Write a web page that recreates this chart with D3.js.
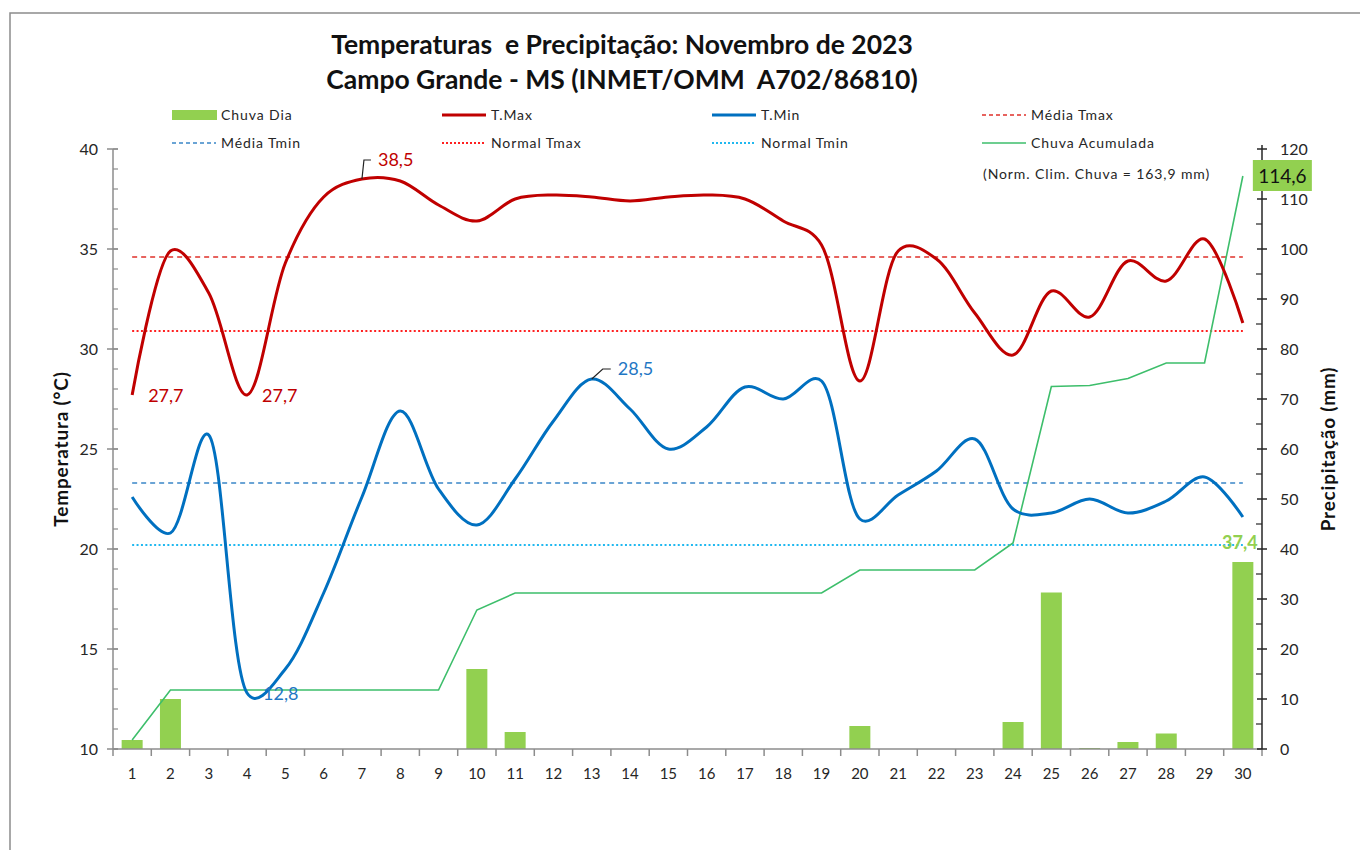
<!DOCTYPE html>
<html>
<head>
<meta charset="utf-8">
<script src="https://cdn.jsdelivr.net/npm/d3@7"></script>
<style>
  body { margin: 0; background: #fff; }
  svg { display: block; font-family: Lato, "Open Sans", sans-serif; }
</style>
</head>
<body>
<svg id="chart" width="1360" height="850"></svg>
<script>
// dias do mês
const days = d3.range(1, 31);

// temperaturas (°C)
const tmax = [27.7, 34.9, 32.8, 27.7, 34.3, 37.6, 38.5, 38.4, 37.2, 36.4,
              37.5, 37.7, 37.6, 37.4, 37.6, 37.7, 37.5, 36.4, 35.2, 28.4,
              34.9, 34.5, 31.8, 29.7, 32.9, 31.6, 34.4, 33.4, 35.5, 31.3];
const tmin = [22.6, 20.8, 25.7, 12.8, 14.0, 17.8, 22.6, 26.9, 23.0, 21.2,
              23.5, 26.4, 28.5, 27.0, 25.0, 26.1, 28.1, 27.5, 28.4, 21.5,
              22.7, 23.9, 25.5, 22.0, 21.8, 22.5, 21.8, 22.4, 23.6, 21.6];

// chuva diária e acumulada (mm)
const chuvaDia = [1.8, 10.0, 0, 0, 0, 0, 0, 0, 0, 16.0,
                  3.4, 0, 0, 0, 0, 0, 0, 0, 0, 4.6,
                  0, 0, 0, 5.4, 31.3, 0.2, 1.4, 3.1, 0, 37.4];
const chuvaAcum = [1.8, 11.8, 11.8, 11.8, 11.8, 11.8, 11.8, 11.8, 11.8, 27.8,
                   31.2, 31.2, 31.2, 31.2, 31.2, 31.2, 31.2, 31.2, 31.2, 35.8,
                   35.8, 35.8, 35.8, 41.2, 72.5, 72.7, 74.1, 77.2, 77.2, 114.6];

// linhas de referência
const mediaTmax = 34.6;
const mediaTmin = 23.3;
const normalTmax = 30.9;
const normalTmin = 20.2;

const tempTicks = [10, 15, 20, 25, 30, 35, 40];
const precTicks = [0, 10, 20, 30, 40, 50, 60, 70, 80, 90, 100, 110, 120];

const titleLines = ["Temperaturas  e Precipitação: Novembro de 2023",
                    "Campo Grande - MS (INMET/OMM  A702/86810)"];

const legendItems = [
  { label: "Chuva Dia", kind: "bar", color: "#92D050" },
  { label: "T.Max", kind: "line", color: "#C00000", width: 3 },
  { label: "T.Min", kind: "line", color: "#0070C0", width: 3 },
  { label: "Média Tmax", kind: "line", color: "#E0302A", width: 1.5, dash: "4,3" },
  { label: "Média Tmin", kind: "line", color: "#3A86C8", width: 1.5, dash: "4,3" },
  { label: "Normal Tmax", kind: "line", color: "#FF2020", width: 2, dash: "2,2" },
  { label: "Normal Tmin", kind: "line", color: "#20B8F0", width: 2, dash: "2,2" },
  { label: "Chuva Acumulada", kind: "line", color: "#3DBE6B", width: 1.5 }
];

const svg = d3.select("#chart");

const mLeft = 113, mRight = 1262, mTop = 149, mBottom = 749;

const x = d3.scaleBand().domain(days).range([mLeft, mRight]).padding(0);
const xc = d => x(d) + x.bandwidth() / 2;
const yT = d3.scaleLinear().domain([10, 40]).range([mBottom, mTop]);
const yP = d3.scaleLinear().domain([0, 120]).range([mBottom, mTop]);

// moldura
svg.append("rect")
  .attr("x", 10).attr("y", 13)
  .attr("width", 1400).attr("height", 900)
  .attr("fill", "none").attr("stroke", "#8c8c8c").attr("stroke-width", 1.5);

// título
svg.selectAll(".title").data(titleLines).enter().append("text")
  .attr("x", 622)
  .attr("y", (d, i) => 54 + i * 35)
  .attr("text-anchor", "middle")
  .attr("font-size", "26.5px")
  .attr("font-weight", "bold")
  .attr("fill", "#111")
  .style("white-space", "pre")
  .text(d => d);

// legenda
const legend = svg.append("g");
legendItems.forEach((it, i) => {
  const col = i % 4, row = Math.floor(i / 4);
  const gx = 172 + col * 270, gy = 115 + row * 28;
  if (it.kind === "bar") {
    legend.append("rect").attr("x", gx).attr("y", gy - 5).attr("width", 45).attr("height", 10)
      .attr("fill", it.color);
  } else {
    legend.append("line").attr("x1", gx).attr("x2", gx + 44).attr("y1", gy).attr("y2", gy)
      .attr("stroke", it.color).attr("stroke-width", it.width)
      .attr("stroke-dasharray", it.dash || null);
  }
  legend.append("text").attr("x", gx + 49).attr("y", gy + 5)
    .attr("font-size", "14px").attr("fill", "#262626")
    .attr("letter-spacing", "0.9px")
    .text(it.label);
});

// barras de chuva
svg.append("g").selectAll("rect").data(days).enter().append("rect")
  .attr("x", d => xc(d) - 10.5)
  .attr("width", 21)
  .attr("y", d => yP(chuvaDia[d - 1]))
  .attr("height", d => mBottom - yP(chuvaDia[d - 1]))
  .attr("fill", "#92D050");

// linhas de referência
function refLine(v, color, width, dash) {
  svg.append("line")
    .attr("x1", xc(1)).attr("x2", xc(30))
    .attr("y1", yT(v)).attr("y2", yT(v))
    .attr("stroke", color).attr("stroke-width", width)
    .attr("stroke-dasharray", dash);
}
refLine(mediaTmax, "#E0302A", 1.5, "5,4");
refLine(normalTmax, "#FF2020", 2.2, "2,2.4");
refLine(mediaTmin, "#3A86C8", 1.5, "5,4");
refLine(normalTmin, "#20B8F0", 2.2, "2,2.4");

// chuva acumulada
svg.append("path")
  .datum(days)
  .attr("fill", "none")
  .attr("stroke", "#3DBE6B")
  .attr("stroke-width", 1.6)
  .attr("d", d3.line().x(d => xc(d)).y(d => yP(chuvaAcum[d - 1])));

// temperaturas (linha suavizada)
const smooth = d3.curveCatmullRom.alpha(0.25);
svg.append("path")
  .datum(days)
  .attr("fill", "none").attr("stroke", "#C00000").attr("stroke-width", 3)
  .attr("d", d3.line().curve(smooth).x(d => xc(d)).y(d => yT(tmax[d - 1])));
svg.append("path")
  .datum(days)
  .attr("fill", "none").attr("stroke", "#0070C0").attr("stroke-width", 3)
  .attr("d", d3.line().curve(smooth).x(d => xc(d)).y(d => yT(tmin[d - 1])));

// eixo x
const xAxis = svg.append("g");
xAxis.append("line").attr("x1", mLeft).attr("x2", mRight).attr("y1", mBottom).attr("y2", mBottom)
  .attr("stroke", "#8c8c8c").attr("stroke-width", 1.5);
xAxis.selectAll(".xt").data(d3.range(0, 31)).enter().append("line")
  .attr("x1", i => mLeft + i * x.bandwidth()).attr("x2", i => mLeft + i * x.bandwidth())
  .attr("y1", mBottom).attr("y2", mBottom + 7)
  .attr("stroke", "#8c8c8c").attr("stroke-width", 1.5);
xAxis.selectAll(".xl").data(days).enter().append("text")
  .attr("x", d => xc(d)).attr("y", 779)
  .attr("text-anchor", "middle").attr("font-size", "15px").attr("fill", "#262626")
  .text(d => d);

// eixo de temperatura (esquerda)
const yAxisL = svg.append("g");
yAxisL.append("line").attr("x1", mLeft).attr("x2", mLeft).attr("y1", mTop).attr("y2", mBottom)
  .attr("stroke", "#8c8c8c").attr("stroke-width", 1.5);
yAxisL.selectAll(".mn").data(d3.range(10, 41)).enter().append("line")
  .attr("x1", mLeft).attr("x2", mLeft + 5)
  .attr("y1", d => yT(d)).attr("y2", d => yT(d))
  .attr("stroke", "#8c8c8c").attr("stroke-width", 1.2);
yAxisL.selectAll(".mj").data(tempTicks).enter().append("line")
  .attr("x1", mLeft - 6).attr("x2", mLeft + 5)
  .attr("y1", d => yT(d)).attr("y2", d => yT(d))
  .attr("stroke", "#8c8c8c").attr("stroke-width", 1.5);
yAxisL.selectAll("text").data(tempTicks).enter().append("text")
  .attr("x", 98).attr("y", d => yT(d) + 5.5)
  .attr("text-anchor", "end").attr("font-size", "16px").attr("fill", "#262626")
  .text(d => d);

// eixo de precipitação (direita)
const yAxisR = svg.append("g");
yAxisR.append("line").attr("x1", mRight).attr("x2", mRight).attr("y1", mTop - 4).attr("y2", mBottom)
  .attr("stroke", "#262626").attr("stroke-width", 1.5);
yAxisR.selectAll(".mn").data(d3.range(5, 120, 10)).enter().append("line")
  .attr("x1", mRight - 6).attr("x2", mRight)
  .attr("y1", d => yP(d)).attr("y2", d => yP(d))
  .attr("stroke", "#262626").attr("stroke-width", 1.2);
yAxisR.selectAll(".mj").data(precTicks).enter().append("line")
  .attr("x1", mRight - 5).attr("x2", mRight + 5)
  .attr("y1", d => yP(d)).attr("y2", d => yP(d))
  .attr("stroke", "#262626").attr("stroke-width", 1.5);
yAxisR.selectAll("text").data(precTicks).enter().append("text")
  .attr("x", 1280).attr("y", d => yP(d) + 5.5)
  .attr("font-size", "16px").attr("fill", "#262626")
  .text(d => d);

// títulos dos eixos
svg.append("text")
  .attr("transform", `translate(68,${(mTop + mBottom) / 2}) rotate(-90)`)
  .attr("text-anchor", "middle").attr("font-size", "19px").attr("font-weight", "bold")
  .attr("letter-spacing", "0.8px")
  .attr("fill", "#111").text("Temperatura (°C)");
svg.append("text")
  .attr("transform", `translate(1335,${(mTop + mBottom) / 2}) rotate(-90)`)
  .attr("text-anchor", "middle").attr("font-size", "19px").attr("font-weight", "bold")
  .attr("letter-spacing", "0.8px")
  .attr("fill", "#111").text("Precipitação (mm)");

// rótulos de dados
const fmt = v => String(v.toFixed(1)).replace(".", ",");
function label(xp, yp, txt, color, bold) {
  svg.append("text").attr("x", xp).attr("y", yp + 6.5)
    .attr("font-size", "18px").attr("fill", color)
    .attr("font-weight", bold ? "bold" : null).text(txt);
}
label(xc(1) + 16, yT(tmax[0]), fmt(tmax[0]), "#C00000");
label(xc(4) + 15, yT(tmax[3]), fmt(tmax[3]), "#C00000");
label(xc(4) + 16, yT(tmin[3]), fmt(tmin[3]), "#1F77C4");

// máx. absoluta com linha guia
const p7 = [xc(7), yT(tmax[6])];
svg.append("path")
  .attr("d", `M${p7[0]},${p7[1]} L${p7[0] + 2},${p7[1] - 19} L${p7[0] + 9},${p7[1] - 19}`)
  .attr("fill", "none").attr("stroke", "#222").attr("stroke-width", 1.2);
label(p7[0] + 16, p7[1] - 20, fmt(tmax[6]), "#C00000");

const p13 = [xc(13), yT(tmin[12])];
svg.append("path")
  .attr("d", `M${p13[0]},${p13[1]} L${p13[0] + 11},${p13[1] - 10} L${p13[0] + 19},${p13[1] - 10}`)
  .attr("fill", "none").attr("stroke", "#222").attr("stroke-width", 1.2);
label(p13[0] + 26, p13[1] - 11, fmt(tmin[12]), "#1F77C4");

// rótulo da última barra
svg.append("text")
  .attr("x", xc(30) - 3).attr("y", yP(chuvaDia[29]) - 13)
  .attr("text-anchor", "middle").attr("font-size", "18px").attr("font-weight", "bold")
  .attr("fill", "#92D050").text(fmt(chuvaDia[29]));

// total acumulado
const pAc = [xc(30), yP(chuvaAcum[29])];
svg.append("rect")
  .attr("x", pAc[0] + 10).attr("y", pAc[1] - 16)
  .attr("width", 59).attr("height", 31).attr("fill", "#92D050");
svg.append("text")
  .attr("x", pAc[0] + 39.5).attr("y", pAc[1] + 6.5)
  .attr("text-anchor", "middle").attr("font-size", "19px").attr("fill", "#111")
  .text(fmt(chuvaAcum[29]));

svg.append("text")
  .attr("x", 983).attr("y", 179)
  .attr("font-size", "14px").attr("fill", "#262626")
  .attr("letter-spacing", "0.9px")
  .text("(Norm. Clim. Chuva = 163,9 mm)");
</script>
</body>
</html>
